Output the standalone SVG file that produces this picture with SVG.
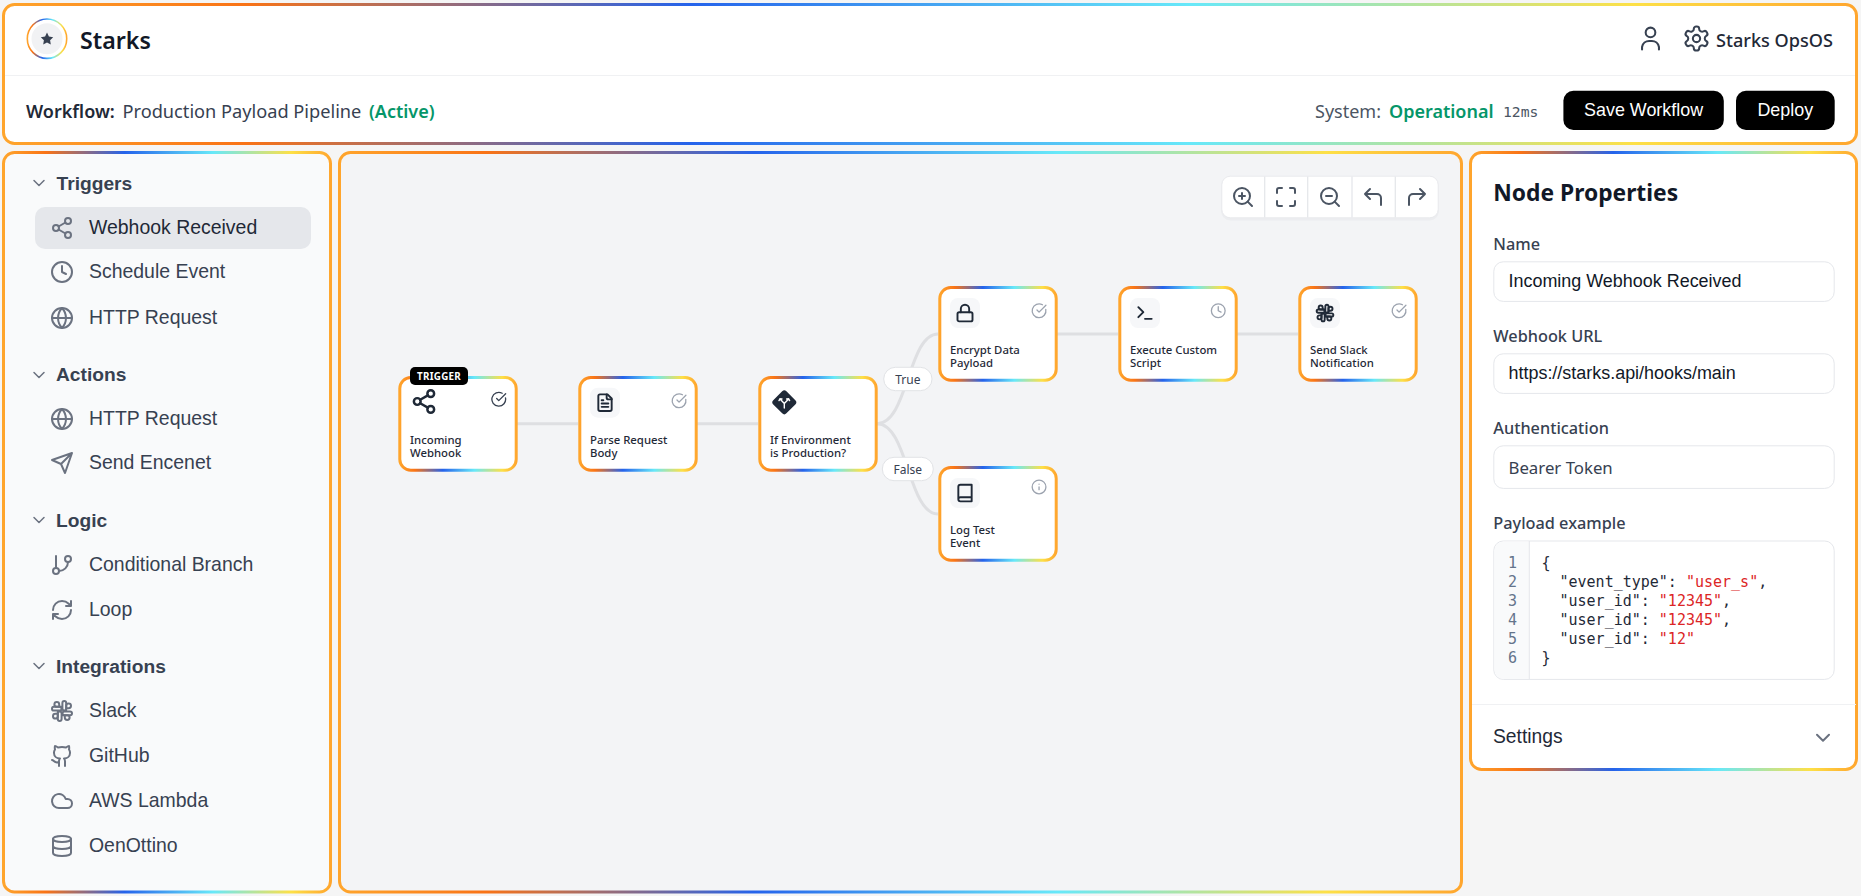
<svg xmlns="http://www.w3.org/2000/svg" width="1861" height="896" viewBox="0 0 1861 896">
<style>
.sans{font-family:"Liberation Sans",Arial,sans-serif}
.noto{font-family:"Noto Sans",sans-serif}
.mono{font-family:"DejaVu Sans Mono",monospace}
.frame{stroke:url(#rb);stroke-width:3}
.nodebox{fill:#fff;stroke:url(#rb);stroke-width:3}
.ic{fill:none;stroke-linecap:round;stroke-linejoin:round}
.side{stroke:#6b7280;stroke-width:2}
.sec{font-size:19.2px;font-weight:700;fill:#374151}
.item{font-size:19.45px;fill:#374151}
.chev{stroke:#6b7280;stroke-width:1.8;fill:none}
.nlabel{font-size:11.35px;font-weight:500;fill:#1f2937}
.ibox{fill:#f6f7f9}
.stat{stroke:#9ca3af;stroke-width:1.9}
.dark{stroke:#1f2937;stroke-width:2.3}
.tool{stroke:#4b5563;stroke-width:2}
.flabel{font-size:16.3px;font-weight:500;fill:#374151}
.input{fill:#fff;stroke:#e5e7eb;stroke-width:1}
.itext{font-size:17.95px;fill:#111827}
.code{font-size:15px;fill:#1f2937}
.str{fill:#dc2626}
.num{font-size:15px;fill:#64748b;text-anchor:end}
.conn{fill:none;stroke:#dedfe2;stroke-width:3}
.pill{fill:#fff;stroke:#e1e3e6;stroke-width:1}
.pilltext{font-size:12px;fill:#374151;text-anchor:middle}
</style>
<defs>
<linearGradient id="rb" x1="0" y1="0" x2="1" y2="0">
<stop offset="0" stop-color="#ffa52c"/><stop offset="0.13" stop-color="#f97316"/><stop offset="0.37" stop-color="#2563eb"/><stop offset="0.64" stop-color="#67e8f9"/><stop offset="0.88" stop-color="#fde047"/><stop offset="1" stop-color="#ffa62e"/>
</linearGradient>
<symbol id="i-share" viewBox="0 0 24 24"><circle cx="18" cy="5" r="3"/><circle cx="6" cy="12" r="3"/><circle cx="18" cy="19" r="3"/><path d="M8.59 13.51 15.42 17.49M15.41 6.51 8.59 10.49"/></symbol>
<symbol id="i-clock" viewBox="0 0 24 24"><circle cx="12" cy="12" r="10"/><path d="M12 6v6l4 2"/></symbol>
<symbol id="i-globe" viewBox="0 0 24 24"><circle cx="12" cy="12" r="10"/><path d="M2 12h20M12 2a15.3 15.3 0 0 1 4 10 15.3 15.3 0 0 1-4 10 15.3 15.3 0 0 1-4-10 15.3 15.3 0 0 1 4-10z"/></symbol>
<symbol id="i-send" viewBox="0 0 24 24"><path d="M22 2 11 13M22 2l-7 20-4-9-9-4z"/></symbol>
<symbol id="i-branch" viewBox="0 0 24 24"><path d="M6 3v12"/><circle cx="18" cy="6" r="3"/><circle cx="6" cy="18" r="3"/><path d="M18 9a9 9 0 0 1-9 9"/></symbol>
<symbol id="i-loop" viewBox="0 0 24 24"><path d="M3 12a9 9 0 0 1 9-9 9.75 9.75 0 0 1 6.74 2.74L21 8M21 3v5h-5M21 12a9 9 0 0 1-9 9 9.75 9.75 0 0 1-6.74-2.74L3 16M8 16H3v5"/></symbol>
<symbol id="i-slack" viewBox="0 0 24 24"><rect x="12.4" y="2" width="3.8" height="9.5" rx="1.9"/><path d="M16.2 11.5V6.8a2.4 2.4 0 1 1 2.4 2.4h-2.4"/><rect x="7.8" y="12.5" width="3.8" height="9.5" rx="1.9"/><path d="M7.8 12.5v4.7a2.4 2.4 0 1 1-2.4-2.4h2.4"/><rect x="12.5" y="12.4" width="9.5" height="3.8" rx="1.9"/><path d="M12.5 16.2h4.7a2.4 2.4 0 1 1-2.4 2.4v-2.4"/><rect x="2" y="7.8" width="9.5" height="3.8" rx="1.9"/><path d="M11.5 7.8H6.8a2.4 2.4 0 1 1 2.4-2.4v2.4"/></symbol>
<symbol id="i-github" viewBox="0 0 24 24"><path d="M15 22v-4a4.8 4.8 0 0 0-1-3.5c3 0 6-2 6-5.5.08-1.25-.27-2.48-1-3.5.28-1.15.28-2.35 0-3.5 0 0-1 0-3 1.5-2.64-.5-5.36-.5-8 0C6 2 5 2 5 2c-.3 1.15-.3 2.35 0 3.5A5.403 5.403 0 0 0 4 9c0 3.5 3 5.5 6 5.5-.39.49-.68 1.05-.85 1.65-.17.6-.22 1.23-.15 1.85v4M9 18c-4.51 2-5-2-7-2"/></symbol>
<symbol id="i-cloud" viewBox="0 0 24 24"><path d="M17.5 19H9a7 7 0 1 1 6.71-9h1.79a4.5 4.5 0 1 1 0 9Z"/></symbol>
<symbol id="i-db" viewBox="0 0 24 24"><ellipse cx="12" cy="5" rx="9" ry="3"/><path d="M3 5V19A9 3 0 0 0 21 19V5M3 12A9 3 0 0 0 21 12"/></symbol>
<symbol id="i-zin" viewBox="0 0 24 24"><circle cx="11" cy="11" r="8"/><path d="M21 21l-4.35-4.35M11 8v6M8 11h6"/></symbol>
<symbol id="i-zout" viewBox="0 0 24 24"><circle cx="11" cy="11" r="8"/><path d="M21 21l-4.35-4.35M8 11h6"/></symbol>
<symbol id="i-scan" viewBox="0 0 24 24"><path d="M8 3H5a2 2 0 0 0-2 2v3M21 8V5a2 2 0 0 0-2-2h-3M3 16v3a2 2 0 0 0 2 2h3M16 21h3a2 2 0 0 0 2-2v-3"/></symbol>
<symbol id="i-undo" viewBox="0 0 24 24"><path d="M9 14 4 9l5-5M20 20v-7a4 4 0 0 0-4-4H4"/></symbol>
<symbol id="i-redo" viewBox="0 0 24 24"><path d="M15 14l5-5-5-5M4 20v-7a4 4 0 0 1 4-4h12"/></symbol>
<symbol id="i-user" viewBox="0 0 24 24"><circle cx="12" cy="7" r="4"/><path d="M5 21v-2a6 6 0 0 1 6-5h2a6 6 0 0 1 6 5v2"/></symbol>
<symbol id="i-gear" viewBox="0 0 24 24"><path d="M12.22 2h-.44a2 2 0 0 0-2 2v.18a2 2 0 0 1-1 1.73l-.43.25a2 2 0 0 1-2 0l-.15-.08a2 2 0 0 0-2.73.73l-.22.38a2 2 0 0 0 .73 2.73l.15.1a2 2 0 0 1 1 1.72v.51a2 2 0 0 1-1 1.74l-.15.09a2 2 0 0 0-.73 2.73l.22.38a2 2 0 0 0 2.73.73l.15-.08a2 2 0 0 1 2 0l.43.25a2 2 0 0 1 1 1.73V20a2 2 0 0 0 2 2h.44a2 2 0 0 0 2-2v-.18a2 2 0 0 1 1-1.73l.43-.25a2 2 0 0 1 2 0l.15.08a2 2 0 0 0 2.73-.73l.22-.39a2 2 0 0 0-.73-2.73l-.15-.08a2 2 0 0 1-1-1.74v-.5a2 2 0 0 1 1-1.74l.15-.09a2 2 0 0 0 .73-2.73l-.22-.38a2 2 0 0 0-2.73-.73l-.15.08a2 2 0 0 1-2 0l-.43-.25a2 2 0 0 1-1-1.73V4a2 2 0 0 0-2-2z"/><circle cx="12" cy="12" r="3"/></symbol>
<symbol id="i-file" viewBox="0 0 24 24"><path d="M15 2H6a2 2 0 0 0-2 2v16a2 2 0 0 0 2 2h12a2 2 0 0 0 2-2V7Z"/><path d="M14 2v4a2 2 0 0 0 2 2h4M10 9H8M16 13H8M16 17H8"/></symbol>
<symbol id="i-lock" viewBox="0 0 24 24"><rect x="3" y="11" width="18" height="11" rx="2"/><path d="M7 11V7a5 5 0 0 1 10 0v4"/></symbol>
<symbol id="i-term" viewBox="0 0 24 24"><path d="M4 17l6-6-6-6M12 19h8"/></symbol>
<symbol id="i-book" viewBox="0 0 24 24"><path d="M4 19.5v-15A2.5 2.5 0 0 1 6.5 2H20v20H6.5a2.5 2.5 0 0 1 0-5H20"/></symbol>
<symbol id="i-check" viewBox="0 0 24 24"><path d="M21.801 10A10 10 0 1 1 17 3.335M9 11l3 3L22 4"/></symbol>
<symbol id="i-info" viewBox="0 0 24 24"><circle cx="12" cy="12" r="10"/><path d="M12 16v-4M12 8h.01"/></symbol>
<symbol id="i-chev" viewBox="0 0 24 24"><path d="M6 9l6 6 6-6"/></symbol>
</defs>
<rect width="1861" height="896" fill="#f5f5f5"/>

<g id="header">
<rect class="frame" x="3.5" y="4.5" width="1853" height="139" rx="11" fill="#fff"/>
<line x1="5" y1="75.5" x2="1855" y2="75.5" stroke="#f0f1f3" stroke-width="1"/>
<circle cx="47" cy="38.7" r="19.7" fill="#fff" stroke="url(#rb)" stroke-width="1.6"/>
<circle cx="47" cy="38.7" r="15.5" fill="#f1f2f4"/>
<polygon points="47,32.6 48.9,36.6 53.2,37.2 50.1,40.2 50.8,44.5 47,42.5 43.2,44.5 43.9,40.2 40.8,37.2 45.1,36.6" fill="#374151"/>
<text class="noto" x="80" y="49" font-size="23.2" font-weight="600" fill="#111827">Starks</text>
<use href="#i-user" class="ic" x="1636" y="24" width="29" height="29" stroke="#374151" stroke-width="1.7"/>
<use href="#i-gear" class="ic" x="1682" y="24" width="29" height="29" stroke="#374151" stroke-width="1.7"/>
<text class="noto" x="1716" y="47" font-size="18.1" font-weight="500" fill="#1f2937">Starks OpsOS</text>
<text class="noto" x="26" y="118" font-size="18" font-weight="600" fill="#1f2937">Workflow:</text>
<text class="noto" x="122.5" y="118" font-size="18.2" fill="#374151">Production Payload Pipeline</text>
<text class="noto" x="369" y="118" font-size="18" font-weight="600" fill="#059669">(Active)</text>
<text class="noto" x="1315" y="118" font-size="18" fill="#4b5563">System:</text>
<text class="noto" x="1389" y="118" font-size="18" font-weight="600" fill="#059669">Operational</text>
<text class="mono" x="1503" y="116.5" font-size="14.7" fill="#4b5563">12ms</text>
<rect x="1563.4" y="90.7" width="160.4" height="39.3" rx="10" fill="#000"/>
<text class="sans" x="1643.6" y="116" font-size="17.9" fill="#fff" text-anchor="middle">Save Workflow</text>
<rect x="1736" y="90.7" width="98.7" height="39.3" rx="10" fill="#000"/>
<text class="sans" x="1785.3" y="116" font-size="17.9" fill="#fff" text-anchor="middle">Deploy</text>
</g>

<g id="sidebar">
<rect class="frame" x="3.5" y="152.5" width="327" height="739.5" rx="11" fill="#f9fafb"/>
<rect x="35" y="207" width="276" height="42" rx="10" fill="#e5e7eb"/>
<use href="#i-chev" class="chev ic" x="29" y="173" width="20" height="20"/>
<text class="sans sec" x="56.5" y="190">Triggers</text>
<use href="#i-share" class="ic side" x="50" y="216" width="24" height="24"/>
<text class="sans item" x="89" y="234" style="fill:#1f2937">Webhook Received</text>
<use href="#i-clock" class="ic side" x="50" y="260" width="24" height="24"/>
<text class="sans item" x="89" y="278">Schedule Event</text>
<use href="#i-globe" class="ic side" x="50" y="306" width="24" height="24"/>
<text class="sans item" x="89" y="324">HTTP Request</text>
<use href="#i-chev" class="chev ic" x="29" y="365" width="20" height="20"/>
<text class="sans sec" x="56" y="381">Actions</text>
<use href="#i-globe" class="ic side" x="50" y="407" width="24" height="24"/>
<text class="sans item" x="89" y="425">HTTP Request</text>
<use href="#i-send" class="ic side" x="50" y="451" width="24" height="24"/>
<text class="sans item" x="89" y="469">Send Encenet</text>
<use href="#i-chev" class="chev ic" x="29" y="510" width="20" height="20"/>
<text class="sans sec" x="56" y="527">Logic</text>
<use href="#i-branch" class="ic side" x="50" y="553" width="24" height="24"/>
<text class="sans item" x="89" y="571">Conditional Branch</text>
<use href="#i-loop" class="ic side" x="50" y="598" width="24" height="24"/>
<text class="sans item" x="89" y="616">Loop</text>
<use href="#i-chev" class="chev ic" x="29" y="656" width="20" height="20"/>
<text class="sans sec" x="56" y="673">Integrations</text>
<use href="#i-slack" class="ic side" x="50" y="699" width="24" height="24"/>
<text class="sans item" x="89" y="717">Slack</text>
<use href="#i-github" class="ic side" x="50" y="744" width="24" height="24"/>
<text class="sans item" x="89" y="762">GitHub</text>
<use href="#i-cloud" class="ic side" x="50" y="789" width="24" height="24"/>
<text class="sans item" x="89" y="807">AWS Lambda</text>
<use href="#i-db" class="ic side" x="50" y="834" width="24" height="24"/>
<text class="sans item" x="89" y="852">OenOttino</text>
</g>

<g id="canvas">
<rect class="frame" x="339.5" y="152.5" width="1122" height="739.5" rx="11" fill="#f3f4f6"/>
</g>

<g id="toolbar">
<rect x="1221.3" y="177.5" width="217.4" height="43" rx="9" fill="#e5e7eb" opacity="0.55"/>
<rect x="1221.8" y="176.2" width="216.4" height="41.6" rx="8.5" fill="#fff" stroke="#e9eaed" stroke-width="1"/>
<path d="M1264.7 176.5V217.5M1307.7 176.5V217.5M1352 176.5V217.5M1395.3 176.5V217.5" stroke="#e5e7eb" stroke-width="1.3"/>
<use href="#i-zin" class="ic tool" x="1231" y="185" width="24" height="24"/>
<use href="#i-scan" class="ic tool" x="1274" y="185" width="24" height="24"/>
<use href="#i-zout" class="ic tool" x="1318" y="185" width="24" height="24"/>
<use href="#i-undo" class="ic tool" x="1361" y="185" width="24" height="24"/>
<use href="#i-redo" class="ic tool" x="1405" y="185" width="24" height="24"/>
</g>

<g id="connectors">
<path class="conn" d="M517 423.7H578"/>
<path class="conn" d="M697 423.7H758"/>
<path class="conn" d="M877 423.7C908 423.7 908 334 938 334"/>
<path class="conn" d="M877 423.7C908 423.7 908 514 938 514"/>
<path class="conn" d="M1057 334H1118"/>
<path class="conn" d="M1237 334H1298"/>
</g>

<g id="label-true">
<rect class="pill" x="883.7" y="367.3" width="48.3" height="23.4" rx="11.7"/>
<text class="noto pilltext" x="907.8" y="384">True</text>
</g>
<g id="label-false">
<rect class="pill" x="882.3" y="457.3" width="51" height="23.4" rx="11.7"/>
<text class="noto pilltext" x="907.8" y="474">False</text>
</g>

<g id="node-incoming-webhook">
<rect class="nodebox" x="399.8" y="377.5" width="116.4" height="92.7" rx="11"/>
<rect x="410" y="367" width="58" height="18" rx="5" fill="#000"/>
<text class="noto" x="439" y="380" font-size="9.8" font-weight="700" fill="#fff" text-anchor="middle" letter-spacing="0.3">TRIGGER</text>
<use href="#i-share" class="ic" x="410.5" y="388" width="27" height="27" stroke="#1f2937" stroke-width="2.2"/>
<use href="#i-check" class="ic" x="490.5" y="391" width="16.5" height="16.5" stroke="#374151" stroke-width="1.9"/>
<text class="noto nlabel" x="410" y="444.3">Incoming</text>
<text class="noto nlabel" x="410" y="457">Webhook</text>
</g>

<g id="node-parse-request">
<rect class="nodebox" x="579.8" y="377.5" width="116.4" height="92.7" rx="11"/>
<rect class="ibox" x="590" y="387.7" width="30" height="30" rx="8"/>
<use href="#i-file" class="ic dark" x="595" y="392.7" width="20" height="20"/>
<use href="#i-check" class="ic stat" x="670.8" y="392.5" width="16.5" height="16.5"/>
<text class="noto nlabel" x="590" y="444.3">Parse Request</text>
<text class="noto nlabel" x="590" y="457">Body</text>
</g>

<g id="node-if-environment">
<rect class="nodebox" x="759.8" y="377.5" width="116.4" height="92.7" rx="11"/>
<rect x="775" y="393" width="18.6" height="18.6" rx="3" fill="#1f2937" transform="rotate(45 784.3 402.3)"/>
<path d="M784.3 408V403.5M784.3 403.5L780.5 399.5M784.3 403.5L788.1 399.5M779 400.6L780 398.8L782 399M789.6 400.6L788.6 398.8L786.6 399" fill="none" stroke="#fff" stroke-width="1.4" stroke-linecap="round"/>
<text class="noto nlabel" x="770" y="444.3">If Environment</text>
<text class="noto nlabel" x="770" y="457">is Production?</text>
</g>

<g id="node-encrypt">
<rect class="nodebox" x="939.8" y="287.5" width="116.4" height="92.7" rx="11"/>
<rect class="ibox" x="950" y="298" width="30" height="30" rx="8"/>
<use href="#i-lock" class="ic dark" x="955" y="303" width="20" height="20"/>
<use href="#i-check" class="ic stat" x="1030.8" y="302.5" width="16.5" height="16.5"/>
<text class="noto nlabel" x="950" y="354">Encrypt Data</text>
<text class="noto nlabel" x="950" y="366.7">Payload</text>
</g>

<g id="node-log">
<rect class="nodebox" x="939.8" y="467.5" width="116.4" height="92.7" rx="11"/>
<rect class="ibox" x="950" y="478" width="30" height="30" rx="8"/>
<use href="#i-book" class="ic dark" x="955" y="483" width="20" height="20"/>
<use href="#i-info" class="ic stat" x="1030.8" y="478.7" width="16.5" height="16.5"/>
<text class="noto nlabel" x="950" y="534">Log Test</text>
<text class="noto nlabel" x="950" y="546.7">Event</text>
</g>

<g id="node-execute">
<rect class="nodebox" x="1119.8" y="287.5" width="116.4" height="92.7" rx="11"/>
<rect class="ibox" x="1130" y="298" width="30" height="30" rx="8"/>
<use href="#i-term" class="ic dark" x="1135" y="303" width="20" height="20"/>
<use href="#i-clock" class="ic stat" x="1210" y="302.5" width="16.5" height="16.5"/>
<text class="noto nlabel" x="1130" y="354">Execute Custom</text>
<text class="noto nlabel" x="1130" y="366.7">Script</text>
</g>

<g id="node-slack">
<rect class="nodebox" x="1299.8" y="287.5" width="116.4" height="92.7" rx="11"/>
<rect class="ibox" x="1310" y="298" width="30" height="30" rx="8"/>
<use href="#i-slack" class="ic dark" x="1315" y="303" width="20" height="20"/>
<use href="#i-check" class="ic stat" x="1390.8" y="302.5" width="16.5" height="16.5"/>
<text class="noto nlabel" x="1310" y="354">Send Slack</text>
<text class="noto nlabel" x="1310" y="366.7">Notification</text>
</g>

<g id="properties">
<rect class="frame" x="1470.5" y="152.5" width="386" height="617" rx="11" fill="#fff"/>
<text class="noto" x="1493.3" y="200.7" font-size="22.8" font-weight="700" fill="#111827">Node Properties</text>
<text class="noto flabel" x="1493.3" y="250">Name</text>
<rect class="input" x="1493.8" y="261.8" width="340.4" height="39.6" rx="9.5"/>
<text class="sans itext" x="1508.5" y="286.7">Incoming Webhook Received</text>
<text class="noto flabel" x="1493.3" y="342">Webhook URL</text>
<rect class="input" x="1493.8" y="353.8" width="340.4" height="39.6" rx="9.5"/>
<text class="sans itext" x="1508.5" y="379.3">https://starks.api/hooks/main</text>
<text class="noto flabel" x="1493.3" y="434">Authentication</text>
<rect class="input" x="1493.8" y="445.8" width="340.4" height="42.6" rx="9.5"/>
<text class="noto" x="1508.5" y="474" font-size="16.8" fill="#374151">Bearer Token</text>
<text class="noto flabel" x="1493.3" y="529.3">Payload example</text>
<rect class="input" x="1493.8" y="541" width="340.4" height="138.4" rx="9.5"/>
<path d="M1529.3 541.5H1503.5a9 9 0 0 0-9 9V670a9 9 0 0 0 9 9H1529.3Z" fill="#f9fafb"/>
<path d="M1529.3 541V679" stroke="#e5e7eb" stroke-width="1"/>
<text class="mono num" x="1517" y="568.3">1</text>
<text class="mono num" x="1517" y="587.3">2</text>
<text class="mono num" x="1517" y="606.3">3</text>
<text class="mono num" x="1517" y="625.3">4</text>
<text class="mono num" x="1517" y="644.2">5</text>
<text class="mono num" x="1517" y="663.2">6</text>
<text class="mono code" x="1541.5" y="568.3">{</text>
<text class="mono code" x="1559.5" y="587.3">"event_type": <tspan class="str">"user_s"</tspan>,</text>
<text class="mono code" x="1559.5" y="606.3">"user_id": <tspan class="str">"12345"</tspan>,</text>
<text class="mono code" x="1559.5" y="625.3">"user_id": <tspan class="str">"12345"</tspan>,</text>
<text class="mono code" x="1559.5" y="644.2">"user_id": <tspan class="str">"12"</tspan></text>
<text class="mono code" x="1541.5" y="663.2">}</text>
<line x1="1472" y1="704.5" x2="1856" y2="704.5" stroke="#f0f1f3" stroke-width="1"/>
<text class="sans" x="1493" y="743.3" font-size="19.3" fill="#1f2937">Settings</text>
<use href="#i-chev" class="ic" x="1811" y="725.7" width="24" height="24" stroke="#6b7280" stroke-width="2"/>
</g>
</svg>
